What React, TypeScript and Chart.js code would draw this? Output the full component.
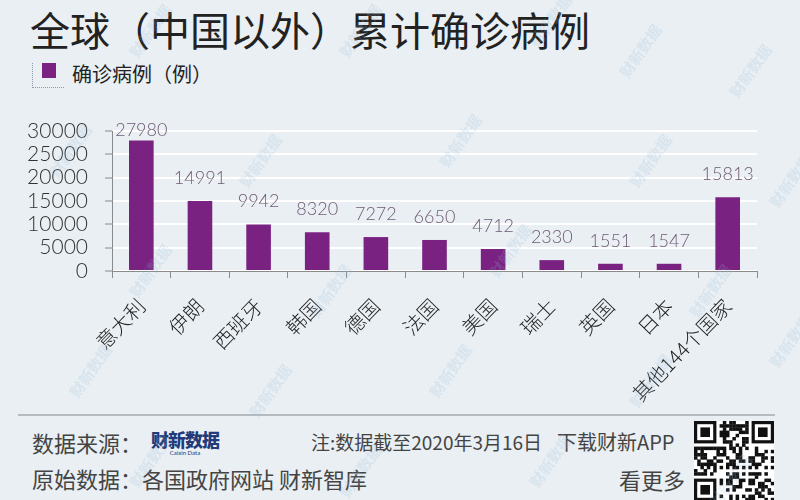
import React, { useEffect, useRef } from "react";
import { Chart, registerables } from "chart.js";

Chart.register(...registerables);

const categories = ["意大利", "伊朗", "西班牙", "韩国", "德国", "法国", "美国", "瑞士", "英国", "日本", "其他144个国家"];
const cases = [27980, 14991, 9942, 8320, 7272, 6650, 4712, 2330, 1551, 1547, 15813];
const yMax = 30000;
const yStep = 5000;

const CJK = '"Noto Sans CJK SC", "Noto Sans", sans-serif';
const NUM = 'Lato, "Noto Sans CJK SC", sans-serif';

const valueLabels = {
  id: "valueLabels",
  afterDatasetsDraw(chart: any) {
    const ctx = chart.ctx;
    const meta = chart.getDatasetMeta(0);
    const area = chart.chartArea;
    ctx.save();
    ctx.font = `300 18px ${NUM}`;
    ctx.fillStyle = "#6e5a74";
    ctx.textAlign = "center";
    ctx.textBaseline = "middle";
    meta.data.forEach((bar: any, i: number) => {
      const y = Math.max(bar.y - 23, area.top - 1);
      ctx.fillText(String(cases[i]), bar.x, y);
    });
    ctx.restore();
  },
};

function QR() {
  const ref = useRef<HTMLCanvasElement>(null);
  useEffect(() => {
    const c = ref.current!;
    const ctx = c.getContext("2d")!;
    const n = 25;
    const s = 80 / n;
    ctx.fillStyle = "#fff";
    ctx.fillRect(0, 0, 80, 80);
    ctx.fillStyle = "#111";
    const finder = (fx: number, fy: number) => {
      ctx.fillRect(fx * s, fy * s, 7 * s, 7 * s);
      ctx.fillStyle = "#fff";
      ctx.fillRect((fx + 1) * s, (fy + 1) * s, 5 * s, 5 * s);
      ctx.fillStyle = "#111";
      ctx.fillRect((fx + 2) * s, (fy + 2) * s, 3 * s, 3 * s);
    };
    for (let i = 0; i < n; i++) {
      for (let j = 0; j < n; j++) {
        const inF = (i < 8 && j < 8) || (i > n - 9 && j < 8) || (i < 8 && j > n - 9);
        if (inF) continue;
        const v = (i * 31 + j * 17 + ((i * j) % 7) * 5 + ((i ^ j) % 3)) % 9;
        if (v < 4) ctx.fillRect(i * s, j * s, s + 0.3, s + 0.3);
      }
    }
    finder(0, 0);
    finder(n - 7, 0);
    finder(0, n - 7);
  }, []);
  return <canvas ref={ref} width={80} height={80} style={{ position: "absolute", left: 694, top: 421, width: 80, height: 80 }} />;
}

export default function App() {
  const canvasRef = useRef<HTMLCanvasElement>(null);

  useEffect(() => {
    const chart = new Chart(canvasRef.current!, {
      type: "bar",
      data: {
        labels: categories,
        datasets: [
          {
            data: cases,
            backgroundColor: "#7a2282",
            barPercentage: 0.42,
            categoryPercentage: 1,
          },
        ],
      },
      plugins: [valueLabels],
      options: {
        responsive: false,
        animation: false,
        devicePixelRatio: 1,
        layout: { padding: { top: 31, right: 43, left: 0, bottom: 0 } },
        plugins: { legend: { display: false }, tooltip: { enabled: false } },
        scales: {
          x: {
            offset: true,
            grid: {
              offset: true,
              drawOnChartArea: false,
              drawTicks: true,
              tickLength: 7,
              tickColor: "#8a8a8a",
            },
            border: { display: true, color: "#8a8a8a", width: 1 },
            ticks: {
              maxRotation: 46,
              minRotation: 46,
              autoSkip: false,
              padding: 16,
              color: "#222",
              font: { family: CJK, size: 20, weight: "300" as any },
            },
            afterFit(scale: any) {
              scale.height = 139;
            },
          },
          y: {
            min: 0,
            max: yMax,
            grid: {
              color: "#ffffff",
              lineWidth: 2,
              drawTicks: true,
              tickLength: 7,
              tickColor: "#8a8a8a",
              tickWidth: 1,
            },
            border: { display: true, color: "#8a8a8a", width: 1 },
            ticks: {
              stepSize: yStep,
              autoSkip: false,
              padding: 17,
              color: "#333",
              font: { family: NUM, size: 21, weight: "300" as any },
              callback: (v: any) => String(v),
            },
            afterFit(scale: any) {
              scale.width = 112;
            },
          },
        },
      },
    });
    return () => chart.destroy();
  }, []);

  const wm: React.ReactNode[] = [];
  const wmPos = [
    [120, 20], [330, 20], [520, 10], [610, 40], [720, 60],
    [40, 140], [230, 150], [430, 130], [620, 150], [760, 170],
    [120, 260], [300, 280], [480, 240], [680, 280],
    [60, 360], [240, 380], [420, 360], [620, 370], [760, 330],
    [120, 450], [330, 460], [520, 450], [700, 470],
  ];
  wmPos.forEach(([x, y], i) => {
    wm.push(
      <span
        key={i}
        style={{
          position: "absolute",
          left: x,
          top: y,
          transform: "rotate(-55deg)",
          fontFamily: CJK,
          fontWeight: 700,
          fontSize: 15,
          color: "rgba(150,185,215,0.2)",
          whiteSpace: "nowrap",
          pointerEvents: "none",
        }}
      >
        财新数据
      </span>
    );
  });

  return (
    <div
      style={{
        position: "fixed",
        left: 0,
        top: 0,
        width: 800,
        height: 500,
        overflow: "hidden",
        background: "#e9eff3",
        fontFamily: CJK,
      }}
    >
      <div style={{ position: "absolute", left: 30, top: 8, fontSize: 40, lineHeight: "42px", color: "#222", whiteSpace: "nowrap" }}>
        全球（中国以外）累计确诊病例
      </div>
      <div style={{ position: "absolute", left: 32, top: 63, width: 31, height: 24, borderLeft: "1px dotted #8a9aa8", borderBottom: "1px dotted #8a9aa8" }} />
      <div style={{ position: "absolute", left: 42, top: 63, width: 14, height: 15, background: "#7a2282" }} />
      <div style={{ position: "absolute", left: 72, top: 63, fontSize: 20, lineHeight: "22px", color: "#222", whiteSpace: "nowrap" }}>
        确诊病例（例）
      </div>
      <canvas ref={canvasRef} width={800} height={310} style={{ position: "absolute", left: 0, top: 100, width: 800, height: 310 }} />
      <div style={{ position: "absolute", left: 18, top: 414, width: 757, height: 0, borderTop: "2px solid #b4bcc2" }} />
      <div style={{ position: "absolute", left: 32, top: 430, fontSize: 22, lineHeight: "24px", color: "#444", whiteSpace: "nowrap" }}>
        数据来源：
      </div>
      <div style={{ position: "absolute", left: 147, top: 429, width: 76, textAlign: "center", whiteSpace: "nowrap" }}>
        <div style={{ fontSize: 18, lineHeight: "20px", fontWeight: 900, color: "#23397a", letterSpacing: -1 }}>财新数据</div>
        <div style={{ fontSize: 6, lineHeight: "7px", color: "#23397a", fontFamily: "Lato, sans-serif" }}>Caixin Data</div>
      </div>
      <div style={{ position: "absolute", left: 311, top: 430, fontSize: 19, lineHeight: "24px", color: "#444", whiteSpace: "nowrap" }}>
        注:数据截至2020年3月16日
      </div>
      <div style={{ position: "absolute", left: 557, top: 430, fontSize: 20, lineHeight: "24px", color: "#444", whiteSpace: "nowrap" }}>
        下载财新APP
      </div>
      <div style={{ position: "absolute", left: 32, top: 466, fontSize: 22, lineHeight: "24px", color: "#444", whiteSpace: "nowrap" }}>
        原始数据：各国政府网站 财新智库
      </div>
      <div style={{ position: "absolute", left: 619, top: 467, fontSize: 22, lineHeight: "24px", color: "#444", whiteSpace: "nowrap" }}>
        看更多
      </div>
      <QR />
      <div style={{ position: "absolute", inset: 0, pointerEvents: "none" }}>{wm}</div>
    </div>
  );
}
